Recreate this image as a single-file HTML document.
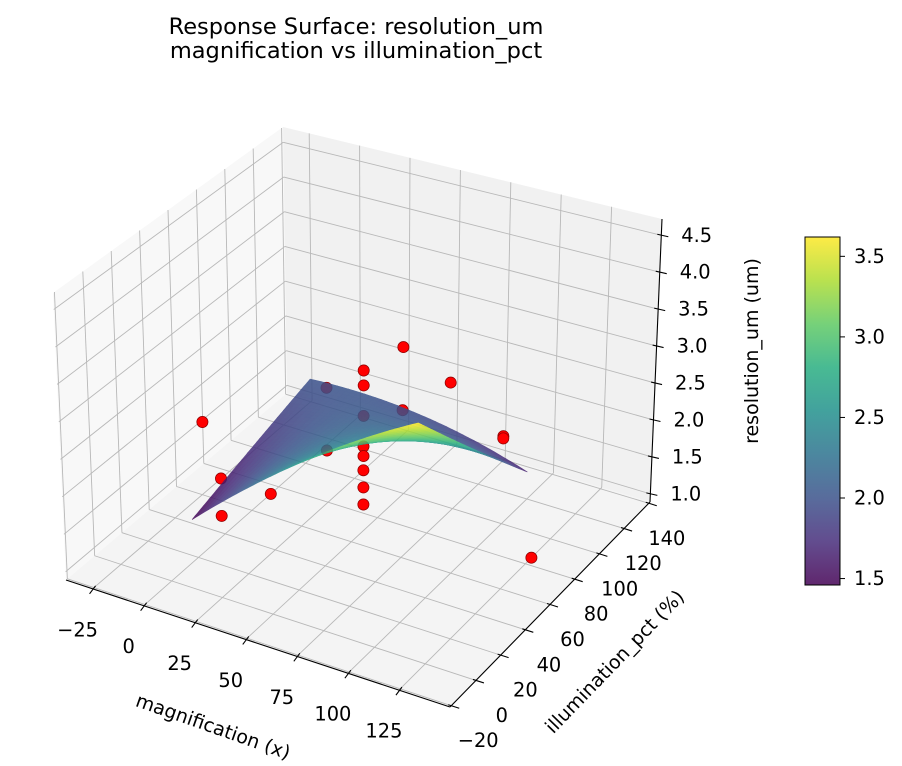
<!DOCTYPE html>
<html><head><meta charset="utf-8">
<style>
html,body{margin:0;padding:0;background:#fff;}
svg{display:block;font-family:"DejaVu Sans","Liberation Sans",sans-serif;}
</style></head>
<body>
<svg id="chart" width="902" height="766" viewBox="0 0 902 766" xmlns="http://www.w3.org/2000/svg">
  <text x="356" y="34" font-size="22.5" text-anchor="middle" fill="#000">Response Surface: resolution_um</text>
  <text x="356" y="58" font-size="22.5" text-anchor="middle" fill="#000">magnification vs illumination_pct</text>
  <g id="panes"></g>
  <g id="grid"></g>
  <g id="axes"></g>
  <g id="points"></g>
  <g id="surface" opacity="0.85"></g>
  <g id="labels"></g>
  <text x="213" y="727" font-size="19" text-anchor="middle" dominant-baseline="central" transform="rotate(19.4 213 727)">magnification (x)</text>
  <text x="615" y="662" font-size="19" text-anchor="middle" dominant-baseline="central" transform="rotate(-46 615 662)">illumination_pct (%)</text>
  <text x="752" y="351" font-size="19" text-anchor="middle" dominant-baseline="central" transform="rotate(-90 752 351)">resolution_um (um)</text>
  <defs><linearGradient id="cbgrad" x1="0" y1="1" x2="0" y2="0"></linearGradient></defs>
  <g id="colorbar"></g>
</svg>
<script>
const xTicks = [-25, 0, 25, 50, 75, 100, 125];
const yTicks = [-20, 0, 20, 40, 60, 80, 100, 120, 140];
const zTicks = [1.0, 1.5, 2.0, 2.5, 3.0, 3.5, 4.0, 4.5];
const cbTicks = [1.5, 2.0, 2.5, 3.0, 3.5];
const xRange = [-38, 150];
const yRange = [-21, 141];
const zRange = [0.89, 4.72];
// observed runs
const ptX = [56, 56, 56, 56, 56, 56, 56, 56, -24, 140, 57, 55, 100, 100, 100, 100, 11, 11, 12, 12];
const ptY = [60, 60, 60, 60, 60, 60, 60, 60, 60, 60, -12, 128, 100, 100, 20, 20, 100, 100, 20, 20];
const ptZ = [3.24, 3.04, 2.63, 2.22, 2.09, 1.90, 1.67, 1.44, 1.90, 1.42, 2.70, 2.00, 2.07, 2.04, 4.47, 3.65, 2.03, 1.16, 2.05, 1.55];
// fitted surface domain and quadratic coefficients (s,t normalized): c0,c1*s,c2*t,c3*s*t,c4*s^2,c5*t^2
const surfX = [0, 110];
const surfY = [16, 104];
const surfCoef = [1.46, 2.76, 0.54, -2.56, -0.6, 0];

const NS = 'http://www.w3.org/2000/svg';
const C = {
  '000':[66,580],'100':[450,707],'010':[287,393],'110':[650,502],
  '001':[53,293],'101':[458,402],'011':[283,127],'111':[662,219]
};
function proj(x,y,z){
  const u=(x-xRange[0])/(xRange[1]-xRange[0]);
  const v=(y-yRange[0])/(yRange[1]-yRange[0]);
  const w=(z-zRange[0])/(zRange[1]-zRange[0]);
  return projN(u,v,w);
}
function projN(u,v,w){
  let px=0,py=0;
  for(const a of [0,1])for(const b of [0,1])for(const c of [0,1]){
    const k=(a?u:1-u)*(b?v:1-v)*(c?w:1-w);
    const p=C[''+a+b+c];px+=k*p[0];py+=k*p[1];
  }
  return [px,py];
}
function mk(tag,attrs,parent){const e=document.createElementNS(NS,tag);for(const k in attrs)e.setAttribute(k,attrs[k]);parent.appendChild(e);return e;}
function poly(pts){return pts.map(p=>p[0].toFixed(1)+','+p[1].toFixed(1)).join(' ');}
const X0=xRange[0],X1=xRange[1],Y0=yRange[0],Y1=yRange[1],Z0=zRange[0],Z1=zRange[1];

const panes=document.getElementById('panes');
let e;
e=mk('polygon',{points:poly([proj(X0,Y0,Z0),proj(X0,Y1,Z0),proj(X0,Y1,Z1),proj(X0,Y0,Z1)]),fill:'#f8f8f8'},panes);


e=mk('polygon',{points:poly([proj(X0,Y1,Z0),proj(X1,Y1,Z0),proj(X1,Y1,Z1),proj(X0,Y1,Z1)]),fill:'#f1f1f1'},panes);


e=mk('polygon',{points:poly([proj(X0,Y0,Z0),proj(X1,Y0,Z0),proj(X1,Y1,Z0),proj(X0,Y1,Z0)]),fill:'#f4f4f4'},panes);



const grid=document.getElementById('grid');
function gl(a,b){const l=mk('line',{x1:a[0],y1:a[1],x2:b[0],y2:b[1],stroke:'#b8b8b8','stroke-width':0.9},grid);

}
xTicks.forEach(t=>{gl(proj(t,Y0,Z0),proj(t,Y1,Z0));gl(proj(t,Y1,Z0),proj(t,Y1,Z1));});
yTicks.forEach(t=>{gl(proj(X0,t,Z0),proj(X1,t,Z0));gl(proj(X0,t,Z0),proj(X0,t,Z1));});
zTicks.forEach(t=>{gl(proj(X0,Y0,t),proj(X0,Y1,t));gl(proj(X0,Y1,t),proj(X1,Y1,t));});

const axes=document.getElementById('axes');
const labels=document.getElementById('labels');
function al(a,b,name){const l=mk('line',{x1:a[0],y1:a[1],x2:b[0],y2:b[1],stroke:'#000','stroke-width':1.1},axes);

}
al(proj(X0,Y0,Z0),proj(X1,Y0,Z0),'x-axis-line');
al(proj(X1,Y0,Z0),proj(X1,Y1,Z0),'y-axis-line');
al(proj(X1,Y1,Z0),proj(X1,Y1,Z1),'z-axis-line');
function fmt(t){return (t<0?'\u2212':'')+Math.abs(t);}
xTicks.forEach(t=>{
  const p=proj(t,Y0,Z0);
  al([p[0]+3,p[1]-3],[p[0]-3,p[1]+5],'x-tick');
  const tx=mk('text',{x:p[0]-15,y:p[1]+41,'font-size':19.4,'text-anchor':'middle','dominant-baseline':'central'},labels);
  tx.textContent=fmt(t);
  
  
});
yTicks.forEach(t=>{
  const p=proj(X1,t,Z0);
  const v=(t-Y0)/(Y1-Y0);
  al([p[0]-3,p[1]-1],[p[0]+8,p[1]+2.5],'y-tick');
  const tx=mk('text',{x:p[0]+27-9*v,y:p[1]+35,'font-size':19.4,'text-anchor':'middle','dominant-baseline':'central'},labels);
  tx.textContent=fmt(t);
  
  
});
zTicks.forEach(t=>{
  const p=proj(X1,Y1,t);
  al([p[0]-4,p[1]-1],[p[0]+7,p[1]+1.5],'z-tick');
  const tx=mk('text',{x:p[0]+20,y:p[1],'font-size':19.4,'text-anchor':'start','dominant-baseline':'central'},labels);
  tx.textContent=t.toFixed(1);
  
  
});

const pg=document.getElementById('points');
ptX.forEach((x,i)=>{
  const p=proj(x,ptY[i],ptZ[i]);
  const c=mk('circle',{cx:p[0].toFixed(1),cy:p[1].toFixed(1),r:5.6,fill:'#ff0000',stroke:'#8b0000','stroke-width':0.7},pg);
  
  
});

const VIR=['#440154','#472d7b','#3b528b','#2c728e','#21918c','#28ae80','#5ec962','#addc30','#fde725'];
function hex(h){return [parseInt(h.substr(1,2),16),parseInt(h.substr(3,2),16),parseInt(h.substr(5,2),16)];}
function vir(f){f=Math.max(0,Math.min(1,f));const s=f*8;const i=Math.min(7,Math.floor(s));const r=s-i;
  const a=hex(VIR[i]),b=hex(VIR[i+1]);return 'rgb('+a.map((v,k)=>Math.round(v+(b[k]-v)*r)).join(',')+')';}

function sz(s,t){const c=surfCoef;return c[0]+c[1]*s+c[2]*t+c[3]*s*t+c[4]*s*s+c[5]*t*t;}
const N=40;let zmin=1e9,zmax=-1e9;
for(let i=0;i<=N;i++)for(let j=0;j<=N;j++){const z=sz(i/N,j/N);zmin=Math.min(zmin,z);zmax=Math.max(zmax,z);}
const quads=[];
for(let i=0;i<N;i++)for(let j=0;j<N;j++){
  const s0=i/N,s1=(i+1)/N,t0=j/N,t1=(j+1)/N;
  const pts=[[s0,t0],[s1,t0],[s1,t1],[s0,t1]].map(([s,t])=>proj(surfX[0]+s*(surfX[1]-surfX[0]),surfY[0]+t*(surfY[1]-surfY[0]),sz(s,t)));
  const zc=(sz(s0,t0)+sz(s1,t0)+sz(s1,t1)+sz(s0,t1))/4;
  const uc=(surfX[0]+(s0+s1)/2*(surfX[1]-surfX[0])-X0)/(X1-X0);
  const vc=(surfY[0]+(t0+t1)/2*(surfY[1]-surfY[0])-Y0)/(Y1-Y0);
  quads.push({pts,zc,d:0.5*uc-0.866*vc});
}
quads.sort((a,b)=>a.d-b.d);
const sg=document.getElementById('surface');
quads.forEach(q=>{
  const col=vir((q.zc-zmin)/(zmax-zmin));
  const p=mk('polygon',{points:poly(q.pts),fill:col,stroke:col,'stroke-width':0.6},sg);
  
  
});

const cb=document.getElementById('colorbar');
const grad=document.getElementById('cbgrad');
VIR.forEach((c,i)=>{mk('stop',{offset:(i/8*100)+'%','stop-color':c},grad);});
const cbTop=237,cbBot=585,cbL=805,cbR=840;
e=mk('rect',{x:cbL,y:cbTop,width:cbR-cbL,height:cbBot-cbTop,fill:'url(#cbgrad)',opacity:0.85},cb);


e=mk('rect',{x:cbL,y:cbTop,width:cbR-cbL,height:cbBot-cbTop,fill:'none',stroke:'#000','stroke-width':1},cb);


cbTicks.forEach(t=>{
  const y=cbBot-(t-zmin)/(zmax-zmin)*(cbBot-cbTop);
  const l=mk('line',{x1:cbR,y1:y,x2:cbR+5,y2:y,stroke:'#000','stroke-width':1},cb);
  
  
  const tx=mk('text',{x:cbR+14,y:y,'font-size':19.4,'dominant-baseline':'central'},cb);
  tx.textContent=t.toFixed(1);
  
  
});
</script>
</body></html>
